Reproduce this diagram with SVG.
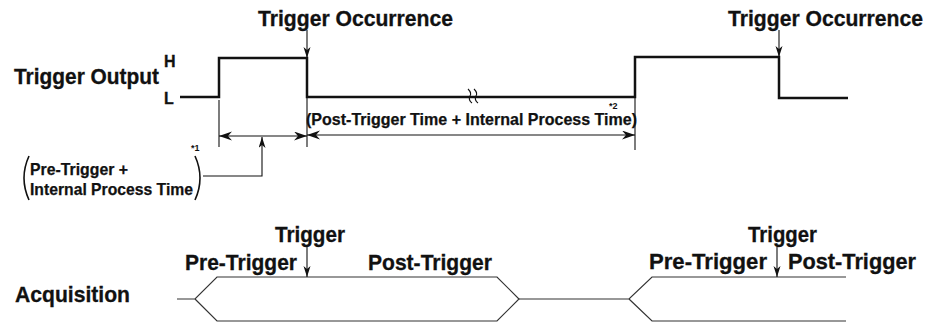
<svg xmlns="http://www.w3.org/2000/svg" width="933" height="324" viewBox="0 0 933 324">
<defs>
<style>
text{font-family:"Liberation Sans",Arial,sans-serif;font-weight:bold;fill:#111;stroke:#111;stroke-width:0.3}
.big{font-size:21.5px}
.mid{font-size:16.2px;stroke-width:0.25}
.hl{font-size:16px}
.sm{font-size:9px;stroke-width:0}
.sig{fill:none;stroke:#111;stroke-width:2.5}
.thin{fill:none;stroke:#111;stroke-width:1.1}
.acq{fill:none;stroke:#333;stroke-width:1.2}
.par{fill:none;stroke:#111;stroke-width:1.6}
</style>
<marker id="ah" markerUnits="userSpaceOnUse" markerWidth="14" markerHeight="10" refX="13" refY="4.5" orient="auto-start-reverse">
<path d="M0,0 L13,4.5 L0,9 L4,4.5 z" fill="#111"/>
</marker>
<marker id="ahs" markerUnits="userSpaceOnUse" markerWidth="12" markerHeight="8" refX="11" refY="3.5" orient="auto-start-reverse">
<path d="M0,0 L11,3.5 L0,7 L3,3.5 z" fill="#111"/>
</marker>
</defs>

<g id="trigger-output-label">
<text class="big" x="14" y="84" textLength="145" lengthAdjust="spacingAndGlyphs">Trigger Output</text>
<text class="hl" x="164" y="67">H</text>
<text class="hl" x="164" y="104">L</text>
</g>

<g id="trigger-output-signal">
<path class="sig" d="M180,97 H219 V58 H307 V97 H635 V57 H779 V98 H848"/>
<g id="break-mark">
<path d="M468,89 Q472,93 470,96 Q468,100 472,103" fill="none" stroke="#111" stroke-width="1.1"/>
<path d="M474,89 Q478,93 476,96 Q474,100 478,103" fill="none" stroke="#111" stroke-width="1.1"/>
</g>
</g>

<g id="trigger-occurrence-1">
<text class="big" x="258" y="26" textLength="195" lengthAdjust="spacingAndGlyphs">Trigger Occurrence</text>
</g>
<g id="trigger-occurrence-2">
<text class="big" x="728" y="26" textLength="195" lengthAdjust="spacingAndGlyphs">Trigger Occurrence</text>
</g>

<g id="pre-trigger-callout">
<path class="par" d="M29,156 Q19,178 29,200"/>
<path class="par" d="M195,156 Q205,178 195,200"/>
<text class="mid" x="30" y="175" textLength="98" lengthAdjust="spacingAndGlyphs">Pre-Trigger +</text>
<text class="mid" x="30" y="195" textLength="163" lengthAdjust="spacingAndGlyphs">Internal Process Time</text>
<text class="sm" x="191" y="151">*1</text>
</g>

<g id="post-trigger-label">
<text class="mid" x="306" y="125" textLength="331" lengthAdjust="spacingAndGlyphs">(Post-Trigger Time + Internal Process Time)</text>
<text class="sm" x="609" y="109">*2</text>
</g>

<g id="acquisition-label">
<text class="big" x="15" y="302" textLength="115" lengthAdjust="spacingAndGlyphs">Acquisition</text>
</g>

<g id="acquisition-1">
<path class="acq" d="M177,299 H195 L217,277 H497 L519,299 L497,321 H217 L195,299"/>
<text class="big" x="275" y="242" textLength="70" lengthAdjust="spacingAndGlyphs">Trigger</text>
<text class="big" x="185" y="270" textLength="112" lengthAdjust="spacingAndGlyphs">Pre-Trigger</text>
<text class="big" x="368" y="270" textLength="124" lengthAdjust="spacingAndGlyphs">Post-Trigger</text>
</g>

<g id="acquisition-2">
<path class="acq" d="M519,299 H629 L652,277 H846 M629,299 L652,321 H846"/>
<text class="big" x="748" y="242" textLength="69" lengthAdjust="spacingAndGlyphs">Trigger</text>
<text class="big" x="649" y="269" textLength="118" lengthAdjust="spacingAndGlyphs">Pre-Trigger</text>
<text class="big" x="788" y="269" textLength="128" lengthAdjust="spacingAndGlyphs">Post-Trigger</text>
</g>

<g id="connectors">
<line class="thin" x1="307" y1="30" x2="307" y2="58" marker-end="url(#ahs)"/>
<line class="thin" x1="779" y1="30" x2="779" y2="57" marker-end="url(#ahs)"/>
<line class="thin" x1="219" y1="100" x2="219" y2="147"/>
<line class="thin" x1="307" y1="97" x2="307" y2="147"/>
<line class="thin" x1="635" y1="97" x2="635" y2="150"/>
<line class="thin" x1="219" y1="136" x2="307" y2="136" marker-start="url(#ah)" marker-end="url(#ah)"/>
<line class="thin" x1="307" y1="135" x2="635" y2="135" marker-start="url(#ah)" marker-end="url(#ah)"/>
<polyline class="thin" points="203,176 262,176 262,137" marker-end="url(#ahs)"/>
<line class="thin" x1="307" y1="247" x2="307" y2="277" marker-end="url(#ahs)"/>
<line class="thin" x1="777" y1="247" x2="777" y2="277" marker-end="url(#ahs)"/>
</g>
</svg>
